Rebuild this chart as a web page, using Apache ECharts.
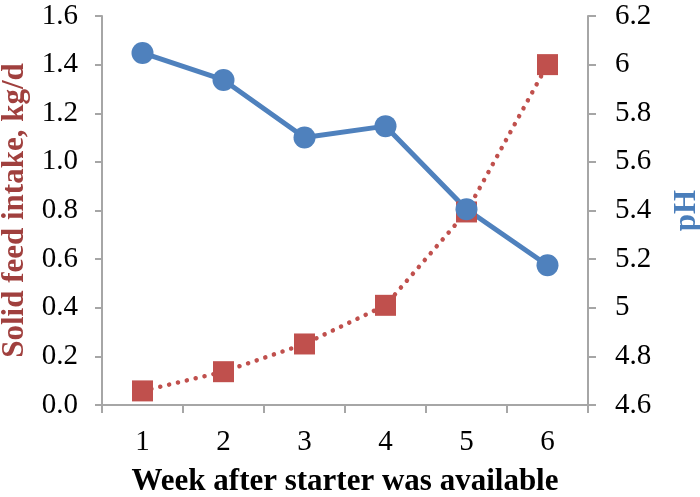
<!DOCTYPE html>
<html><head><meta charset="utf-8">
<script src="https://cdn.jsdelivr.net/npm/echarts@6/dist/echarts.min.js"></script>
<style>html,body{margin:0;padding:0;background:#fff}#c{width:700px;height:497px}</style>
</head><body><div id="c"></div>
<script>
const weeks = ['1','2','3','4','5','6'];
const feedIntake = [0.058, 0.137, 0.251, 0.41, 0.794, 1.40];
const pH = [6.048, 5.937, 5.70, 5.747, 5.405, 5.175];
const xTitle = 'Week after starter was available';
const leftTitle = 'Solid feed intake, kg/d';
const rightTitle = 'pH';

const font = 'Liberation Serif';
const axisGray = '#A6A6A6';
const chart = echarts.init(document.getElementById('c'), null, {renderer:'canvas'});
chart.setOption({
  animation: false,
  grid: {left: 102, right: 112, top: 16, bottom: 92, containLabel: false, outerBoundsMode: 'none'},
  xAxis: {
    type: 'category', data: weeks, boundaryGap: true,
    name: xTitle, nameLocation: 'middle', nameGap: 61,
    nameTextStyle: {fontFamily: font, fontWeight: 'bold', fontSize: 31, color: '#000'},
    axisLine: {lineStyle: {color: axisGray, width: 2}},
    axisTick: {show: true, length: 8, lineStyle: {color: axisGray, width: 2}, alignWithLabel: false},
    axisLabel: {fontFamily: font, fontSize: 29, color: '#000', margin: 23}
  },
  yAxis: [{
    type: 'value', min: 0, max: 1.6, interval: 0.2, position: 'left',
    name: leftTitle, nameLocation: 'middle', nameRotate: 90, nameGap: 72,
    nameTextStyle: {fontFamily: font, fontWeight: 'bold', fontSize: 31, color: '#A0403E'},
    axisLine: {show: true, lineStyle: {color: axisGray, width: 2}},
    axisTick: {show: true, length: 7, lineStyle: {color: axisGray, width: 2}},
    axisLabel: {fontFamily: font, fontSize: 29, color: '#000', margin: 24, formatter: v => v.toFixed(1)},
    splitLine: {show: false}
  }, {
    type: 'value', min: 4.6, max: 6.2, interval: 0.2, position: 'right',
    name: rightTitle, nameLocation: 'middle', nameRotate: 90, nameGap: 83,
    nameTextStyle: {fontFamily: font, fontWeight: 'bold', fontSize: 31, color: '#4A7EBB'},
    axisLine: {show: true, lineStyle: {color: axisGray, width: 2}},
    axisTick: {show: true, length: 8, lineStyle: {color: axisGray, width: 2}},
    axisLabel: {fontFamily: font, fontSize: 29, color: '#000', margin: 27, formatter: v => String(+v.toFixed(1))},
    splitLine: {show: false}
  }],
  series: [{
    type: 'line', yAxisIndex: 0, data: feedIntake,
    symbol: 'rect', symbolSize: 21,
    itemStyle: {color: '#C0504D'},
    lineStyle: {color: '#C0504D', width: 4.5, type: [0.1, 9], cap: 'round'}
  }, {
    type: 'line', yAxisIndex: 1, data: pH,
    symbol: 'circle', symbolSize: 22,
    itemStyle: {color: '#4F81BD'},
    lineStyle: {color: '#4F81BD', width: 5}
  }]
});
</script></body></html>
